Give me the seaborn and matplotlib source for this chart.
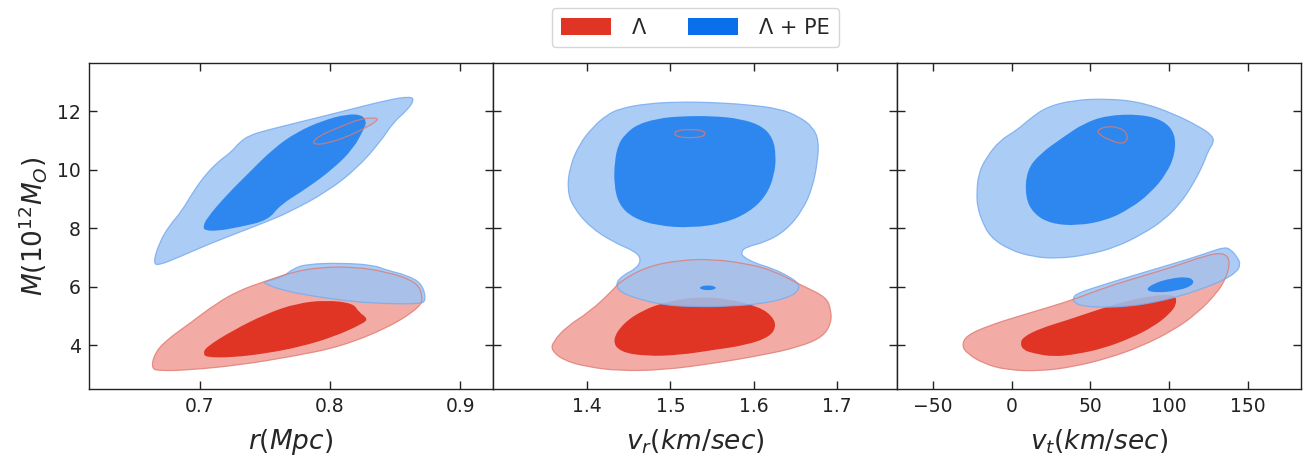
import matplotlib
matplotlib.use("Agg")
import matplotlib.pyplot as plt
from matplotlib.path import Path
from matplotlib.patches import PathPatch, Patch
import seaborn as sns

# ---------------------------------------------------------------------------
# Credible-region outlines (x, M) for the two models, per parameter panel.
# "inner" = 68% region, "outer" = 95% region.
# ---------------------------------------------------------------------------

# Panel 1: r (Mpc) vs M
r_lam_outer = [(0.6628, 3.20), (0.6654, 3.72), (0.6744, 4.17), (0.6923, 4.74), (0.7128, 5.43),
               (0.7308, 5.88), (0.7487, 6.16), (0.7718, 6.51), (0.7923, 6.66), (0.8179, 6.68),
               (0.8436, 6.51), (0.8667, 6.16), (0.8713, 5.65), (0.8692, 5.31), (0.8462, 4.63),
               (0.8077, 3.94), (0.7692, 3.60), (0.7308, 3.32), (0.6923, 3.15), (0.6692, 3.12)]
r_lam_outer_island = [(0.7867, 10.95), (0.7923, 11.18), (0.8077, 11.46), (0.8231, 11.75),
                      (0.8364, 11.78), (0.8359, 11.66), (0.8282, 11.46), (0.8128, 11.12),
                      (0.7974, 10.90), (0.7885, 10.86)]
r_lam_inner = [(0.7026, 3.72), (0.7051, 3.94), (0.7256, 4.51), (0.7513, 5.08), (0.7744, 5.43),
               (0.7974, 5.54), (0.8179, 5.43), (0.8218, 5.14), (0.8290, 4.91), (0.8256, 4.74),
               (0.8026, 4.28), (0.7769, 3.94), (0.7513, 3.72), (0.7256, 3.58), (0.7051, 3.58)]
r_pe_outer_upper = [(0.6641, 6.79), (0.6692, 7.53), (0.6769, 8.10), (0.6859, 8.56), (0.6949, 9.24),
                    (0.7051, 9.87), (0.7154, 10.32), (0.7244, 10.61), (0.7308, 10.95), (0.7385, 11.18),
                    (0.7513, 11.35), (0.7821, 11.69), (0.8128, 12.03), (0.8436, 12.38), (0.8615, 12.51),
                    (0.8646, 12.38), (0.8590, 12.03), (0.8487, 11.63), (0.8385, 10.95), (0.8205, 10.04),
                    (0.7974, 9.24), (0.7692, 8.56), (0.7513, 8.22), (0.7308, 7.87), (0.7051, 7.42),
                    (0.6846, 7.02), (0.6692, 6.74)]
r_pe_outer_lower = [(0.7487, 6.16), (0.7641, 6.34), (0.7718, 6.62), (0.7821, 6.77), (0.8077, 6.81),
                    (0.8333, 6.74), (0.8436, 6.56), (0.8590, 6.39), (0.8705, 6.11), (0.8738, 5.54),
                    (0.8692, 5.40), (0.8333, 5.43), (0.8077, 5.54), (0.7821, 5.71), (0.7615, 5.90),
                    (0.7500, 6.11)]
r_pe_inner = [(0.7026, 8.04), (0.7051, 8.33), (0.7205, 9.13), (0.7385, 9.93), (0.7564, 10.72),
              (0.7744, 11.29), (0.7949, 11.69), (0.8128, 11.90), (0.8244, 11.88), (0.8280, 11.65),
              (0.8262, 11.41), (0.8179, 10.72), (0.8026, 10.04), (0.7821, 9.36), (0.7615, 8.79),
              (0.7526, 8.27), (0.7308, 8.04), (0.7128, 7.90), (0.7038, 7.93)]

# Panel 2: v_r vs M
vr_lam_outer = [(1.4389, 6.17), (1.4709, 6.68), (1.5110, 6.91), (1.5510, 6.94), (1.5911, 6.79),
                (1.6232, 6.56), (1.6572, 6.05), (1.6873, 5.65), (1.6933, 5.20), (1.6933, 4.74),
                (1.6833, 4.28), (1.6552, 3.94), (1.6111, 3.66), (1.5510, 3.37), (1.4909, 3.15),
                (1.4389, 3.12), (1.3988, 3.26), (1.3708, 3.49), (1.3567, 3.83), (1.3587, 4.11),
                (1.3748, 4.63), (1.4028, 5.14), (1.4308, 5.88)]
vr_lam_outer_island = [(1.5038, 11.24), (1.5090, 11.35), (1.5234, 11.38), (1.5378, 11.35),
                       (1.5430, 11.24), (1.5378, 11.12), (1.5234, 11.09), (1.5090, 11.12)]
vr_lam_inner = [(1.4300, 4.17), (1.4429, 4.74), (1.4669, 5.20), (1.4950, 5.48), (1.5310, 5.65),
                (1.5671, 5.60), (1.6071, 5.31), (1.6232, 4.97), (1.6272, 4.63), (1.6192, 4.28),
                (1.5911, 4.00), (1.5510, 3.83), (1.5110, 3.66), (1.4709, 3.62), (1.4389, 3.77)]
vr_pe_outer = [(1.4389, 12.09), (1.4709, 12.26), (1.5110, 12.32), (1.5510, 12.30), (1.5911, 12.23),
               (1.6312, 12.09), (1.6552, 11.81), (1.6712, 11.46), (1.6784, 11.01), (1.6772, 10.32),
               (1.6712, 9.41), (1.6592, 8.62), (1.6392, 7.93), (1.6151, 7.53), (1.5911, 7.36),
               (1.5851, 7.19), (1.5871, 7.02), (1.6031, 6.79), (1.6232, 6.62), (1.6432, 6.34),
               (1.6552, 6.09), (1.6532, 5.82), (1.6392, 5.60), (1.6111, 5.42), (1.5711, 5.33),
               (1.5310, 5.31), (1.4909, 5.37), (1.4589, 5.60), (1.4389, 5.82), (1.4341, 6.11),
               (1.4429, 6.39), (1.4589, 6.62), (1.4649, 6.91), (1.4589, 7.19), (1.4308, 7.53),
               (1.4028, 8.05), (1.3828, 8.73), (1.3760, 9.30), (1.3788, 10.10), (1.3908, 10.89),
               (1.4068, 11.46), (1.4228, 11.86)]
vr_pe_inner = [(1.4450, 11.20), (1.4600, 11.55), (1.4850, 11.75), (1.5110, 11.83), (1.5510, 11.84),
               (1.5850, 11.74), (1.6100, 11.50), (1.6230, 11.10), (1.6272, 10.50), (1.6250, 9.80),
               (1.6150, 9.10), (1.5950, 8.55), (1.5650, 8.17), (1.5250, 8.01), (1.4850, 8.08),
               (1.4550, 8.35), (1.4380, 8.80), (1.4320, 9.50), (1.4330, 10.30), (1.4370, 10.85)]
vr_pe_inner_island = [(1.5342, 5.96), (1.5390, 6.03), (1.5450, 6.04), (1.5510, 6.03),
                      (1.5558, 5.96), (1.5510, 5.89), (1.5450, 5.88), (1.5390, 5.89)]

# Panel 3: v_t vs M
vt_lam_outer = [(-28.6, 4.34), (-13.8, 4.68), (3.2, 4.97), (24.4, 5.31), (39.2, 5.56), (60.4, 5.99),
                (81.7, 6.34), (102.9, 6.68), (124.1, 7.08), (134.7, 7.16), (138.9, 6.91), (136.8, 6.34),
                (130.4, 5.77), (117.7, 5.08), (102.9, 4.51), (81.7, 3.94), (60.4, 3.54), (39.2, 3.26),
                (18.0, 3.11), (-3.2, 3.15), (-18.0, 3.37), (-28.6, 3.72), (-31.8, 4.00)]
vt_lam_outer_island = [(54.1, 11.35), (60.4, 11.49), (68.9, 11.44), (73.6, 11.24), (73.2, 10.95),
                       (68.9, 10.89), (62.6, 11.01), (56.2, 11.18)]
vt_lam_inner = [(5.3, 4.06), (7.4, 4.28), (18.0, 4.57), (35.0, 4.85), (54.1, 5.20), (71.0, 5.48),
                (88.0, 5.68), (103.9, 5.74), (105.0, 5.42), (100.7, 5.08), (90.1, 4.63), (75.3, 4.23),
                (58.3, 3.89), (41.4, 3.69), (26.5, 3.60), (13.8, 3.72), (7.4, 3.83)]
vt_pe_outer_upper = [(-22.3, 9.19), (-21.2, 9.87), (-15.9, 10.44), (-7.4, 11.01), (3.2, 11.35),
                     (11.7, 11.75), (22.3, 12.15), (39.2, 12.38), (60.4, 12.43), (81.7, 12.32),
                     (102.9, 11.92), (119.8, 11.46), (127.3, 11.18), (128.7, 10.95), (125.1, 10.67),
                     (122.0, 10.21), (115.6, 9.53), (107.1, 8.84), (96.5, 8.27), (83.8, 7.82),
                     (66.8, 7.36), (47.7, 7.08), (28.6, 6.96), (13.8, 7.02), (-1.1, 7.25),
                     (-13.8, 7.70), (-19.1, 8.27), (-21.8, 8.73)]
vt_pe_outer_lower = [(38.8, 5.60), (41.4, 5.77), (54.1, 5.99), (71.0, 6.28), (92.3, 6.62), (113.5, 6.96),
                     (126.2, 7.19), (134.7, 7.34), (138.9, 7.30), (144.2, 6.96), (145.3, 6.74),
                     (143.2, 6.51), (134.7, 6.22), (124.1, 5.99), (109.2, 5.71), (92.3, 5.48),
                     (75.3, 5.33), (58.3, 5.29), (45.6, 5.33), (39.7, 5.45)]
vt_pe_inner = [(9.5, 9.98), (18.0, 10.55), (32.9, 11.12), (45.6, 11.58), (60.4, 11.86), (81.7, 11.90),
               (96.5, 11.69), (103.9, 11.24), (103.9, 10.55), (98.6, 9.87), (88.0, 9.19), (75.3, 8.67),
               (60.4, 8.27), (41.4, 8.08), (24.4, 8.16), (13.8, 8.50), (8.5, 9.07)]
vt_pe_inner_island = [(84.8, 5.88), (90.1, 6.11), (100.7, 6.28), (111.3, 6.34), (116.0, 6.22),
                      (114.5, 6.02), (105.0, 5.86), (92.3, 5.79)]

# Axis ticks and labels
x_labels = ["$r(Mpc)$", "$v_r(km/sec)$", "$v_t(km/sec)$"]
x_ticks = [[0.7, 0.8, 0.9], [1.4, 1.5, 1.6, 1.7], [-50, 0, 50, 100, 150]]
x_limits = [(0.615, 0.925), (1.2865, 1.7726), (-73, 184)]
y_ticks = [4, 6, 8, 10, 12]
y_limits = (2.5, 13.65)
y_label = "$M(10^{12}M_O)$"
model_names = ["\u039b", "\u039b + PE"]

# Colours
RED_DARK = "#e03424"
RED_LIGHT = "#f2aca5"
RED_EDGE = "#e07a72"
BLUE_DARK = "#2684ee"
BLUE_LIGHT = "#9cc4f4"
BLUE_EDGE = "#79acef"
LEGEND_RED = "#e03424"
LEGEND_BLUE = "#0a6fea"

sns.set_style("ticks")
plt.rcParams["font.family"] = ["DejaVu Sans"]
plt.rcParams["mathtext.fontset"] = "dejavusans"


def smooth_path(verts):
    """Closed quadratic-Bezier path that uses each outline vertex as a control point."""
    n = len(verts)
    mids = [((verts[i][0] + verts[(i + 1) % n][0]) / 2,
             (verts[i][1] + verts[(i + 1) % n][1]) / 2) for i in range(n)]
    pts = [mids[-1]]
    codes = [Path.MOVETO]
    for i in range(n):
        pts += [verts[i], mids[i]]
        codes += [Path.CURVE3, Path.CURVE3]
    pts.append(mids[-1])
    codes.append(Path.CLOSEPOLY)
    return Path(pts, codes)


def region(ax, verts, face, alpha=1.0, edge="none", lw=0.0, z=1):
    ax.add_patch(PathPatch(smooth_path(verts), facecolor=face, edgecolor="none",
                           alpha=alpha, zorder=z))
    if edge != "none":
        ax.add_patch(PathPatch(smooth_path(verts), facecolor="none", edgecolor=edge,
                               lw=lw, alpha=0.85, zorder=z + 5))


panels = [
    dict(lam_outer=[r_lam_outer, r_lam_outer_island], lam_inner=[r_lam_inner],
         pe_outer=[r_pe_outer_upper, r_pe_outer_lower], pe_inner=[r_pe_inner]),
    dict(lam_outer=[vr_lam_outer, vr_lam_outer_island], lam_inner=[vr_lam_inner],
         pe_outer=[vr_pe_outer], pe_inner=[vr_pe_inner, vr_pe_inner_island]),
    dict(lam_outer=[vt_lam_outer, vt_lam_outer_island], lam_inner=[vt_lam_inner],
         pe_outer=[vt_pe_outer_upper, vt_pe_outer_lower], pe_inner=[vt_pe_inner, vt_pe_inner_island]),
]

fig, axes = plt.subplots(1, 3, figsize=(13.06, 4.58), dpi=100, sharey=True)
fig.subplots_adjust(left=0.0681, right=0.9962, bottom=0.1507, top=0.8624, wspace=0)

for i, (ax, p) in enumerate(zip(axes, panels)):
    for v in p["lam_outer"]:
        region(ax, v, RED_LIGHT, z=1)
    for v in p["lam_inner"]:
        region(ax, v, RED_DARK, z=2)
    for v in p["pe_outer"]:
        region(ax, v, BLUE_LIGHT, alpha=0.85, edge=BLUE_EDGE, lw=0.9, z=3)
    for v in p["pe_inner"]:
        region(ax, v, BLUE_DARK, alpha=0.95, z=4)
    for v in p["lam_outer"]:
        ax.add_patch(PathPatch(smooth_path(v), facecolor="none", edgecolor=RED_EDGE,
                               lw=0.9, alpha=0.8, zorder=10))

    ax.set_xlim(*x_limits[i])
    ax.set_ylim(*y_limits)
    ax.set_xticks(x_ticks[i])
    ax.set_yticks(y_ticks)
    ax.set_xlabel(x_labels[i], fontsize=19, labelpad=8)
    ax.tick_params(direction="in", top=True, right=True, length=6, width=1.0,
                   labelsize=13.5, pad=6, color="#222222", labelcolor="#222222")
    for s in ax.spines.values():
        s.set_linewidth(1.0)
        s.set_color("#222222")
    if i > 0:
        ax.tick_params(labelleft=False)

axes[0].set_ylabel(y_label, fontsize=19, labelpad=6)

handles = [Patch(facecolor=LEGEND_RED, edgecolor="none"),
           Patch(facecolor=LEGEND_BLUE, edgecolor="none")]
fig.legend(handles, model_names, loc="upper center", bbox_to_anchor=(0.5326, 1.005),
           ncol=2, fontsize=15, frameon=True, handlelength=2.4, handleheight=0.9,
           columnspacing=2.0, handletextpad=1.0, borderpad=0.45, edgecolor="#cccccc",
           fancybox=True)

fig.savefig("out.png", dpi=100)
